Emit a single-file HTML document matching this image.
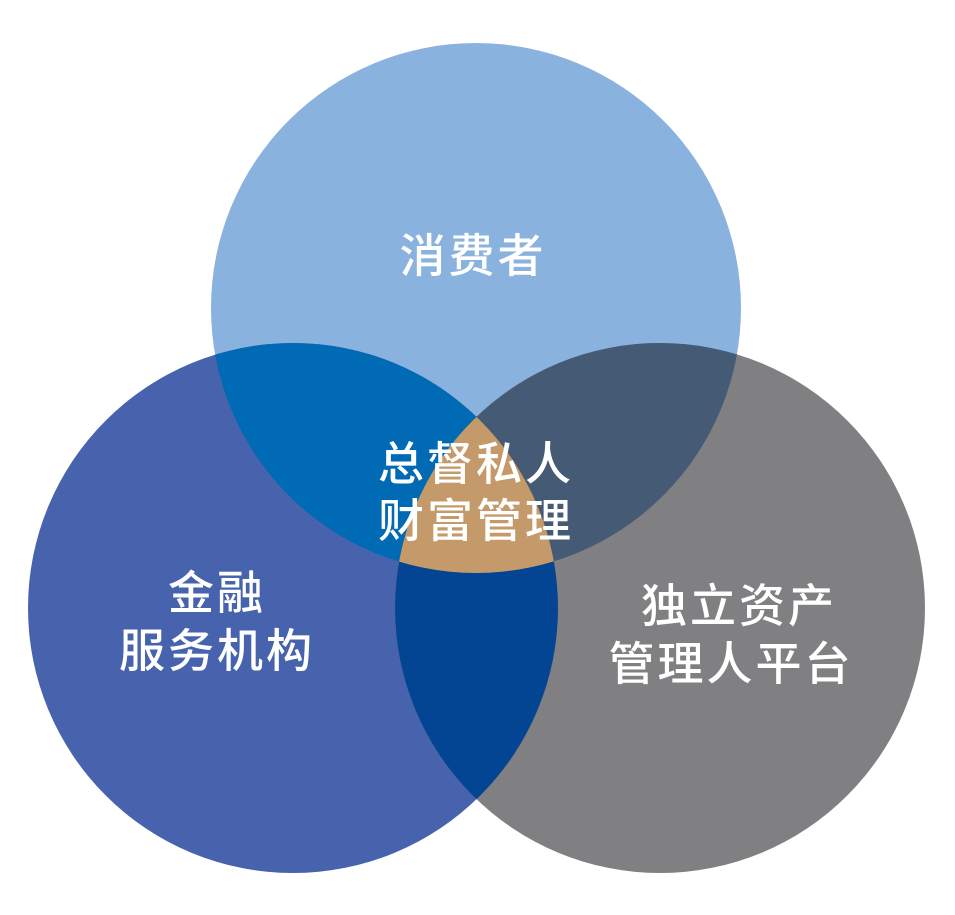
<!DOCTYPE html>
<html><head><meta charset="utf-8"><style>
html,body{margin:0;padding:0;background:#fff;}
svg{display:block;}
text{font-family:"Liberation Sans","Noto Sans CJK SC",sans-serif;fill:#fff;font-size:46px;font-weight:500;letter-spacing:3px;text-anchor:middle;}
</style></head><body>
<svg width="955" height="915" viewBox="0 0 955 915">
<defs>
<clipPath id="cT"><circle cx="476" cy="308" r="265"/></clipPath>
<clipPath id="cL"><circle cx="293" cy="608" r="265"/></clipPath>
<clipPath id="cR"><circle cx="660" cy="608" r="265"/></clipPath>
</defs>
<circle cx="476" cy="308" r="265" fill="#8AB2DE"/>
<circle cx="293" cy="608" r="265" fill="#4863AD"/>
<circle cx="660" cy="608" r="265" fill="#808083"/>
<g clip-path="url(#cT)"><circle cx="293" cy="608" r="265" fill="#006AB4"/><circle cx="660" cy="608" r="265" fill="#455A75"/></g>
<g clip-path="url(#cL)"><circle cx="660" cy="608" r="265" fill="#034593"/></g>
<g clip-path="url(#cT)"><g clip-path="url(#cL)"><circle cx="660" cy="608" r="265" fill="#C49A6B"/></g></g>
<text x="473" y="272">消费者</text>
<text x="476" y="480">总督私人</text>
<text x="476" y="537">财富管理</text>
<text x="217" y="609">金融</text>
<text x="217" y="667">服务机构</text>
<text x="739" y="622">独立资产</text>
<text x="731" y="680">管理人平台</text>
</svg>
</body></html>
